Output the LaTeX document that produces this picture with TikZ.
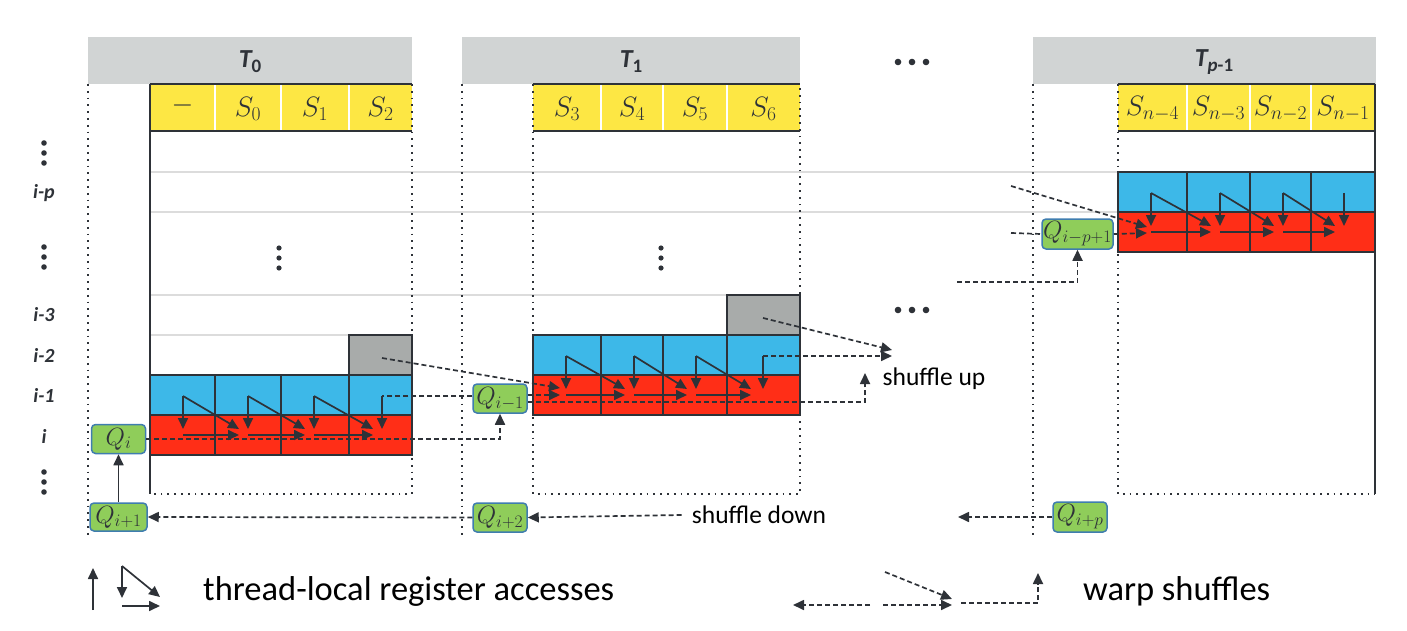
\RequirePackage{fix-cm}
\documentclass[tikz,border=0pt]{standalone}
\usepackage{fontspec}
\setmainfont{Carlito}
\usetikzlibrary{arrows.meta}
\definecolor{hdr}{HTML}{D1D4D4}
\definecolor{ylw}{HTML}{FDE744}
\definecolor{blu}{HTML}{3DB8E8}
\definecolor{rd}{HTML}{FF2E17}
\definecolor{gbox}{HTML}{A8ABAA}
\definecolor{grn}{HTML}{8FCD5A}
\definecolor{qbd}{HTML}{3F7DAF}
\definecolor{dk}{HTML}{2E3238}
\definecolor{rowln}{HTML}{DCDCDC}
\newcommand\fsz[1]{\fontsize{#1}{#1}\selectfont}
\newcommand\cellarrows[7]{%
 \foreach \p/\q/\k in {#1/#2/1,#2/#3/2,#3/#4/3}{
   \coordinate (#7a\k) at (\p+33,#5+21);
   \coordinate (#7v\k) at (\p+33,#6+14);
   \coordinate (#7d\k) at (\q+24,#6+14);
   \coordinate (#7h\k) at (\p+33,#6+20);
   \coordinate (#7e\k) at (\q+24,#6+20);
   \draw[solidarr] (#7a\k) -- (#7v\k);
   \draw[solidarr] (#7a\k) -- (#7d\k);
   \draw[solidarr] (#7h\k) -- (#7e\k);
 }}
\begin{document}
\begin{tikzpicture}[x=1pt,y=-1pt,
  tip/.style={-{Triangle[length=11pt,width=10pt]}},
  solidarr/.style={draw=dk,line width=1.7pt,tip},
  dasharr/.style={draw=dk,line width=1.7pt,dash pattern=on 5pt off 3pt,tip},
  dashln/.style={draw=dk,line width=1.7pt,dash pattern=on 5pt off 3pt},
  dotln/.style={draw=dk,line width=1.8pt,dash pattern=on 1.8pt off 5pt},
  cellbox/.style={draw=dk,line width=1.6pt},
  qbox/.style={draw=qbd,fill=grn,line width=1.5pt,rounded corners=4pt,minimum width=54pt,minimum height=29pt,inner sep=0.5pt,font=\fsz{25},text=dk},
  rowlab/.style={font=\fsz{20}\bfseries\itshape,text=dk,inner sep=0pt},
  hdrlab/.style={font=\fsz{26}\bfseries\itshape,text=dk,inner sep=0pt},
  slab/.style={font=\fsz{28},text=dk,inner sep=0pt},
  bigtxt/.style={font=\fsz{34.5},text=black,anchor=west,inner sep=0pt},
  midtxt/.style={font=\fsz{25.5},text=black,inner sep=0pt}]
\useasboundingbox (0,0) rectangle (1407,631);
% row guide lines
\draw[rowln,line width=1.5pt] (150,172) -- (1118,172) (150,212) -- (1118,212)
  (150,295) -- (727,295) (150,335) -- (349,335);
% headers
\fill[hdr] (88,37) rectangle (412,84);
\fill[hdr] (462,37) rectangle (800,84);
\fill[hdr] (1033,37) rectangle (1376,84);
\node[hdrlab] (h0) at (250,62) {T\raisebox{-5pt}{\fsz{19}\upshape 0}};
\node[hdrlab] (h1) at (631,62) {T\raisebox{-5pt}{\fsz{19}\upshape 1}};
\node[hdrlab] (hp) at (1214,62) {T\raisebox{-5pt}{\fsz{19}p\upshape -1}};
% yellow rows
\fill[ylw] (150,84) rectangle (412,131);
\fill[ylw] (533,84) rectangle (800,131);
\fill[ylw] (1118,84) rectangle (1375,131);
\draw[white,line width=2pt] (215,84)--(215,131) (281,84)--(281,131) (349,84)--(349,131)
  (601,84)--(601,131) (663,84)--(663,131) (727,84)--(727,131)
  (1187,84)--(1187,131) (1250,84)--(1250,131) (1311,84)--(1311,131);
\draw[dk,line width=1.8pt] (150,84)--(412,84) (150,131)--(412,131)
  (533,84)--(800,84) (533,131)--(800,131)
  (1118,84)--(1375,84) (1118,131)--(1375,131);
\node[slab] (y00) at (182.5,106) {$-$};
\node[slab] (y01) at (248,109) {$S_0$};
\node[slab] (y02) at (315,109) {$S_1$};
\node[slab] (y03) at (380.5,109) {$S_2$};
\node[slab] (y10) at (567,109) {$S_3$};
\node[slab] (y11) at (632,109) {$S_4$};
\node[slab] (y12) at (695,109) {$S_5$};
\node[slab] (y13) at (763.5,109) {$S_6$};
\node[slab] (yp0) at (1152.5,109) {$S_{n-4}$};
\node[slab] (yp1) at (1218.5,109) {$S_{n-3}$};
\node[slab] (yp2) at (1280.5,109) {$S_{n-2}$};
\node[slab] (yp3) at (1343,109) {$S_{n-1}$};
% dotted frames
\draw[dotln] (88,84) -- (88,538);
\draw[dotln] (412,84) -- (412,494) -- (150,494);
\draw[dotln] (462,84) -- (462,538);
\draw[dotln] (533,84) -- (533,494) -- (800,494) -- (800,84);
\draw[dotln] (1033,84) -- (1033,538);
\draw[dotln] (1118,84) -- (1118,494) -- (1375,494);
% solid column edges
\draw[dk,line width=1.8pt] (150,84) -- (150,494);
\draw[dk,line width=1.8pt] (1375,84) -- (1375,494);
% T0 cells
\draw[cellbox,fill=gbox] (349,335) rectangle (412,375);
\foreach \a/\b in {150/215,215/281,281/349,349/412}{
  \draw[cellbox,fill=blu] (\a,375) rectangle (\b,415);
  \draw[cellbox,fill=rd] (\a,415) rectangle (\b,455);}
% T1 cells
\draw[cellbox,fill=gbox] (727,295) rectangle (800,335);
\foreach \a/\b in {533/601,601/663,663/727,727/800}{
  \draw[cellbox,fill=blu] (\a,335) rectangle (\b,375);
  \draw[cellbox,fill=rd] (\a,375) rectangle (\b,415);}
% Tp-1 cells
\foreach \a/\b in {1118/1187,1187/1250,1250/1311,1311/1375}{
  \draw[cellbox,fill=blu] (\a,172) rectangle (\b,212);
  \draw[cellbox,fill=rd] (\a,212) rectangle (\b,252);}
% vertical dots and ellipses
\foreach \y in {143,153,163,247,257,267,472,482,492}
  \fill[dk] (44,\y) circle (2.8pt);
\foreach \y in {248,258,268}{
  \fill[dk] (279,\y) circle (2.6pt);
  \fill[dk] (661,\y) circle (2.6pt);}
\foreach \x in {898,912,926}{
  \fill[dk] (\x,62) circle (3.3pt);
  \fill[dk] (\x,310) circle (3.3pt);}
% row labels
\node[rowlab] (lip) at (44,193) {i-p};
\node[rowlab] (li3) at (44,315) {i-3};
\node[rowlab] (li2) at (44,355) {i-2};
\node[rowlab] (li1) at (44,395) {i-1};
\node[rowlab] (li0) at (44,436) {i};
% thread-local arrows
\cellarrows{150}{215}{281}{349}{375}{415}{tz}
\cellarrows{533}{601}{663}{727}{335}{375}{to}
\cellarrows{1118}{1187}{1250}{1311}{172}{212}{tp}
\coordinate (t0a4) at (382,396);
\coordinate (t0v4) at (382,429);
\coordinate (t1a4) at (763,356);
\coordinate (t1v4) at (763,389);
\coordinate (tpa4) at (1344,193);
\coordinate (tpv4) at (1344,226);
\draw[solidarr] (tpa4) -- (tpv4);
% Q boxes
\node[qbox] (Qi) at (118.5,439) {$Q_i$};
\node[qbox,minimum width=57pt,minimum height=28pt] (Qi1) at (118.5,517) {$Q_{i+1}$};
\node[qbox] (Qim1) at (500,398.5) {$Q_{i-1}$};
\node[qbox] (Qi2) at (500,517.5) {$Q_{i+2}$};
\node[qbox,minimum width=71pt,minimum height=30pt,inner sep=0pt] (Qip1) at (1077.5,234) {$Q_{i-p+1}$};
\node[qbox,minimum height=30pt] (Qip) at (1080,517) {$Q_{i+p}$};
% bottom row shuffles
\draw[solidarr] (Qi1.north) -- (Qi.south);
\draw[dasharr] (Qi2.west) -- (Qi1.east);
\node[midtxt] (sd) at (759,515) {shuffle down};
\draw[dasharr] ([xshift=-10pt]sd.west) -- (Qi2.east);
\coordinate (qpend) at (958,517);
\draw[dasharr] (Qip.west) -- (qpend);
% Q_i to Q_{i-1}
\draw[dasharr] (Qi.east) -| (Qim1.south);
% Q_{i-1} to T0 last column
\draw[dashln] ([yshift=2.5pt]Qim1.west) -- (t0a4);
\draw[solidarr] (t0a4) -- (t0v4);
% Q_{i-1} into T1
\coordinate (t1in1) at (560,395);
\draw[dasharr] ([yshift=3.5pt]Qim1.east) -- (t1in1);
\coordinate (sutip) at (865,373);
\draw[dasharr] ([yshift=-3.5pt]Qim1.east) -| (sutip);
\node[midtxt] (su) at (934,379) {shuffle up};
% gray cell shuffles
\coordinate (g0) at (382,358);
\coordinate (t1in2) at (560,388);
\draw[dasharr] (g0) -- (t1in2);
\coordinate (g1) at (763,318);
\coordinate (g1tip) at (892,350);
\draw[dasharr] (g1) -- (g1tip);
\coordinate (t1out) at (892,356);
\draw[dasharr] (t1a4) -- (t1out);
\draw[solidarr] (t1a4) -- (t1v4);
% Tp-1 inputs
\coordinate (tpsrc) at (1011,186);
\coordinate (tpin1) at (1147,227);
\draw[dasharr] (tpsrc) -- (tpin1);
\coordinate (tpq) at (1011,233);
\draw[dashln] (tpq) -- (Qip1.west);
\coordinate (tpin2) at (1147,233);
\draw[dasharr] (Qip1.east) -- (tpin2);
\coordinate (tpup) at (957,282);
\draw[dasharr] (tpup) -| (Qip1.south);
% legend left
\coordinate (l1a) at (93,610);
\coordinate (l1b) at (93,568);
\draw[solidarr] (l1a) -- (l1b);
\coordinate (l2a) at (122,566);
\coordinate (l2v) at (122,598);
\coordinate (l2d) at (160,597);
\coordinate (l2h1) at (122,606);
\coordinate (l2h2) at (160,606);
\draw[solidarr] (l2a) -- (l2v);
\draw[solidarr] (l2a) -- (l2d);
\draw[solidarr] (l2h1) -- (l2h2);
\node[bigtxt] (lt1) at (203,591) {thread-local register accesses};
% legend right
\coordinate (r1s) at (870,605);
\coordinate (r1e) at (793,605);
\draw[dasharr] (r1s) -- (r1e);
\coordinate (r2s) at (885,572);
\coordinate (r2e) at (952,599);
\draw[dasharr] (r2s) -- (r2e);
\coordinate (r3s) at (883,605);
\coordinate (r3e) at (952,605);
\draw[dasharr] (r3s) -- (r3e);
\coordinate (r4s) at (961,603);
\coordinate (r4e) at (1038,573);
\draw[dasharr] (r4s) -| (r4e);
\node[bigtxt] (lt2) at (1083,591) {warp shuffles};
\end{tikzpicture}
\end{document}
